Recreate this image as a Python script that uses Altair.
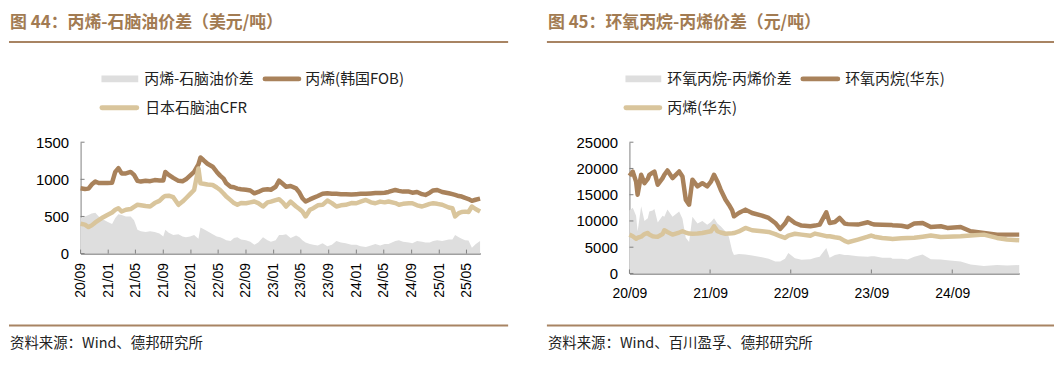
import altair as alt
import pandas as pd

# ---------------- Left panel data: 丙烯-石脑油价差 (美元/吨) ----------------
L_DATES = [
    "2020-09-01", "2020-09-20", "2020-10-06", "2020-10-20", "2020-11-05", "2020-11-20", "2020-12-10", "2020-12-28",
    "2021-01-18", "2021-02-01", "2021-02-15", "2021-03-01", "2021-03-20", "2021-04-10", "2021-04-25", "2021-05-10",
    "2021-05-25", "2021-06-15", "2021-07-05", "2021-07-25", "2021-08-15", "2021-09-01", "2021-09-10", "2021-09-25",
    "2021-10-15", "2021-11-07", "2021-11-25", "2021-12-10", "2021-12-28", "2022-01-15", "2022-02-03", "2022-02-12",
    "2022-02-25", "2022-03-15", "2022-04-07", "2022-04-25", "2022-05-10", "2022-05-25", "2022-06-06", "2022-06-25",
    "2022-07-10", "2022-07-25", "2022-08-10", "2022-09-01", "2022-09-20", "2022-10-08", "2022-10-25", "2022-11-15",
    "2022-12-05", "2022-12-20", "2023-01-10", "2023-01-25", "2023-02-10", "2023-02-25", "2023-03-17", "2023-04-10",
    "2023-04-25", "2023-05-08", "2023-05-22", "2023-06-10", "2023-06-25", "2023-07-15", "2023-08-05", "2023-08-26",
    "2023-09-15", "2023-10-05", "2023-10-25", "2023-11-15", "2023-12-10", "2024-01-01", "2024-01-20", "2024-02-12",
    "2024-03-05", "2024-03-25", "2024-04-15", "2024-05-05", "2024-05-22", "2024-06-21", "2024-07-07", "2024-07-25",
    "2024-08-20", "2024-09-04", "2024-09-25", "2024-10-17", "2024-11-01", "2024-11-20", "2024-12-05", "2024-12-23",
    "2025-01-14", "2025-02-12", "2025-02-28", "2025-03-12", "2025-03-28", "2025-04-10", "2025-04-25", "2025-05-10",
    "2025-05-25", "2025-06-10", "2025-06-30",
]
L_FOB = [
    879, 870, 875, 930, 970, 950, 950, 950,
    955, 1100, 1150, 1080, 1080, 1100, 1060, 980,
    970, 980, 975, 990, 985, 985, 1100, 1060,
    1020, 980, 975, 1000, 1050, 1100, 1200, 1294,
    1260, 1210, 1170, 1100, 1050, 1010, 946, 900,
    893, 875, 866, 860, 850, 812, 830, 860,
    866, 860, 900, 982, 940, 900, 910, 879,
    820, 745, 701, 730, 750, 775, 805, 812,
    805, 805, 800, 800, 795, 800, 805, 805,
    810, 815, 815, 820, 830, 857, 845, 835,
    835, 820, 830, 800, 790, 820, 850, 857,
    830, 812, 800, 790, 775, 768, 750, 735,
    710, 725, 740,
]
L_CFR = [
    402, 390, 357, 380, 420, 450, 490, 520,
    553, 590, 611, 567, 590, 600, 630, 657,
    650, 640, 634, 680, 710, 760, 777, 780,
    760, 657, 700, 745, 800, 857, 1147, 946,
    940, 930, 924, 890, 857, 810, 768, 720,
    680, 657, 680, 678, 690, 701, 680, 634,
    690, 700, 720, 732, 690, 634, 700, 634,
    600, 567, 500, 590, 611, 650, 657, 714,
    680, 634, 650, 657, 680, 678, 700, 723,
    690, 678, 700, 690, 701, 680, 657, 670,
    678, 678, 650, 634, 650, 670, 678, 670,
    657, 620, 611, 500, 544, 560, 565, 560,
    634, 600, 567,
]
L_SPREAD = [
    480, 500, 520, 540, 550, 500, 460, 430,
    400, 480, 530, 520, 500, 500, 450, 320,
    300, 290, 300, 290, 270, 230, 320, 280,
    250, 260, 230, 220, 230, 250, 200, 350,
    330, 300, 260, 230, 220, 200, 180, 170,
    210, 220, 190, 180, 160, 120, 150, 220,
    180, 160, 180, 250, 250, 260, 210, 245,
    220, 180, 150, 130, 120, 110, 140, 100,
    120, 170, 150, 140, 120, 120, 100, 90,
    110, 130, 110, 130, 130, 170, 180, 160,
    150, 140, 170, 160, 150, 150, 170, 180,
    170, 190, 190, 250, 220, 200, 180, 175,
    80, 125, 170,
]
L_XTICKS = ["2020-09-01", "2021-01-01", "2021-05-01", "2021-09-01", "2022-01-01", "2022-05-01",
            "2022-09-01", "2023-01-01", "2023-05-01", "2023-09-01", "2024-01-01", "2024-05-01",
            "2024-09-01", "2025-01-01", "2025-05-01"]
L_YTICKS = [0, 500, 1000, 1500]
L_DOMAIN = ["2020-09-01", "2025-07-01"]

# ---------------- Right panel data: 环氧丙烷-丙烯价差 (元/吨) ----------------
R_DATES = [
    "2020-09-01", "2020-09-16", "2020-10-01", "2020-10-08", "2020-10-24", "2020-11-08", "2020-11-23", "2020-11-30",
    "2020-12-15", "2020-12-23", "2021-01-07", "2021-01-29", "2021-02-06", "2021-02-20", "2021-03-15", "2021-04-14",
    "2021-04-29", "2021-05-14", "2021-05-29", "2021-06-13", "2021-07-06", "2021-07-28", "2021-08-19", "2021-09-05",
    "2021-09-19", "2021-10-04", "2021-10-19", "2021-11-10", "2021-11-25", "2021-12-10", "2021-12-18", "2022-01-09",
    "2022-02-08", "2022-03-10", "2022-04-24", "2022-05-24", "2022-06-23", "2022-07-15", "2022-08-06", "2022-08-21",
    "2022-09-20", "2022-10-20", "2022-11-29", "2022-12-20", "2023-01-10", "2023-02-09", "2023-02-24", "2023-03-20",
    "2023-04-10", "2023-05-03", "2023-05-18", "2023-07-02", "2023-08-16", "2023-08-31", "2023-09-15", "2023-10-20",
    "2023-11-29", "2023-12-05", "2024-01-15", "2024-02-12", "2024-03-13", "2024-04-20", "2024-05-27", "2024-07-11",
    "2024-08-10", "2024-10-09", "2024-11-23", "2025-01-22", "2025-03-23", "2025-05-07", "2025-07-01",
]
R_PO = [
    18600, 19400, 17500, 15000, 18800, 17200, 18000, 18800,
    19200, 19400, 16900, 18160, 18800, 19620, 18160, 19430,
    18480, 14060, 13100, 17860, 16590, 17200, 16590, 17500,
    18800, 17540, 15960, 14060, 13100, 12000, 10890, 11520,
    12160, 11520, 11020, 10570, 9620, 8480, 9500, 10570,
    9620, 9120, 9000, 9120, 9300, 11650, 9620, 9800,
    10570, 9500, 9400, 9310, 9750, 9500, 9310, 9300,
    9250, 9200, 9100, 8860, 9500, 9620, 8860, 8990,
    8670, 8860, 8040, 7720, 7400, 7400, 7400,
]
R_PP = [
    7400, 7100, 6600, 6800, 7000, 7500, 7720, 7400,
    7090, 7050, 7000, 7500, 8230, 7900, 7400, 7800,
    8040, 7800, 7600, 7560, 7600, 7720, 7900, 8040,
    8990, 8040, 7800, 7560, 7600, 7650, 7700, 8000,
    8670, 8230, 8040, 7900, 7500, 7100, 6770, 7200,
    7560, 7400, 7200, 7600, 7400, 7100, 7090, 6900,
    6770, 6200, 5950, 6460, 7000, 7220, 7000, 6770,
    6600, 6580, 6700, 6770, 6800, 7000, 7220, 6960,
    7000, 7090, 7220, 7400, 6770, 6460, 6330,
]
R_SPREAD = [
    12000, 12500, 11000, 8000, 12800, 10000, 10500, 11800,
    12000, 12300, 9700, 11000, 10800, 12200, 10800, 11800,
    10400, 6800, 6000, 10800, 9500, 10000, 9300, 9800,
    10500, 9500, 9000, 8000, 7000, 4300, 3500, 3700,
    3600, 3400, 3100, 2800, 2300, 2300, 2800, 3900,
    2900, 2600, 2700, 3000, 3200, 4870, 3000, 3500,
    3700, 3500, 3500, 3290, 3200, 3300, 3300, 3000,
    3000, 2800, 2800, 2660, 3200, 3610, 2700, 2660,
    2500, 2300, 1710, 1400, 1600, 1500, 1600,
]
R_XTICKS = ["2020-09-01", "2021-09-01", "2022-09-01", "2023-09-01", "2024-09-01"]
R_YTICKS = [0, 5000, 10000, 15000, 20000, 25000]
R_DOMAIN = ["2020-09-01", "2025-07-01"]

# ---------------- Styles ----------------
BROWN = "#A9825B"
TAN = "#D9C59C"
GREY = "#DEDEDE"
TITLE_C = "#A27B52"
RULE_C = "#A88463"
AXIS_C = "#808080"
CJK = "Noto Sans CJK SC"
LAT = "Liberation Sans"

ONE = pd.DataFrame({"k": [0]})


def dt(s):
    y, m, d = map(int, s.split("-"))
    return alt.DateTime(year=y, month=m, date=d)


def text(t, x, y, size, color, weight="normal", font=CJK):
    return alt.Chart(ONE).mark_text(
        text=t, align="left", baseline="middle", fontSize=size, font=font,
        color=color, fontWeight=weight
    ).encode(x=alt.value(x), y=alt.value(y))


def hline(x1, x2, y, color, width, cap="butt"):
    return alt.Chart(ONE).mark_rule(color=color, strokeWidth=width, strokeCap=cap).encode(
        x=alt.value(x1), x2=alt.value(x2), y=alt.value(y))


def panel(dates, a_vals, b_vals, s_vals, xticks, yticks, domain, W, H, angle, xpad,
          title, names, source, ox, rule_len, leg):
    df = pd.DataFrame({"date": pd.to_datetime(dates), "a": a_vals, "b": b_vals, "s": s_vals})
    xaxis = alt.Axis(values=[dt(s) for s in xticks], format="%y/%m", labelAngle=angle,
                     labelFont=LAT, labelFontSize=14, labelColor="#000", labelPadding=xpad,
                     ticks=False, tickSize=0, domainColor=AXIS_C, domainWidth=1.5, grid=False,
                     labelOverlap=False, labelFlush=False, title=None)
    yaxis = alt.Axis(values=yticks, format="d", labelFont=LAT, labelFontSize=15, labelColor="#000",
                     labelPadding=12, ticks=False, tickSize=0, domainColor=AXIS_C, domainWidth=1,
                     grid=False, title=None)
    xsc = alt.Scale(domain=[dt(domain[0]), dt(domain[1])])
    ysc = alt.Scale(domain=[yticks[0], yticks[-1]], nice=False)
    X = alt.X("date:T", scale=xsc, axis=xaxis)
    base = alt.Chart(df)
    area = base.mark_area(color=GREY, opacity=1).encode(x=X, y=alt.Y("s:Q", scale=ysc, axis=yaxis))
    la = base.mark_line(color=BROWN, strokeWidth=4.5, strokeJoin="round").encode(
        x=X, y=alt.Y("a:Q", scale=ysc, axis=yaxis))
    lb = base.mark_line(color=TAN, strokeWidth=4.5, strokeJoin="round").encode(
        x=X, y=alt.Y("b:Q", scale=ysc, axis=yaxis))
    ytk = alt.Chart(pd.DataFrame({"v": yticks})).mark_rule(color=AXIS_C, strokeWidth=1).encode(
        y=alt.Y("v:Q", scale=ysc, axis=yaxis), x=alt.value(0), x2=alt.value(4))
    xtk = alt.Chart(pd.DataFrame({"d": pd.to_datetime(xticks)})).mark_rule(
        color=AXIS_C, strokeWidth=1).encode(
        x=alt.X("d:T", scale=xsc, axis=xaxis), y=alt.value(H), y2=alt.value(H - 4))

    deco = [
        text(title, ox + 1, -120.2, 17, TITLE_C, weight="bold"),
        hline(ox, ox + rule_len, -100.7, RULE_C, 2),
        hline(leg[0], leg[1], -63.7, GREY, 7),
        text(names[0], leg[2], -63.7, 15, "#222"),
        hline(leg[3], leg[4], -63.7, BROWN, 5, "round"),
        text(names[1], leg[5], -63.7, 15, "#222"),
        hline(leg[6], leg[7], -34.7, TAN, 5, "round"),
        text(names[2], leg[8], -34.7, 15, "#222"),
        hline(ox, ox + rule_len, 184.3, RULE_C, 2),
        text(source, ox + 1, 203.3, 14.5, "#222"),
    ]
    return alt.layer(area, la, lb, ytk, xtk, *deco).properties(width=W, height=H)


left = panel(L_DATES, L_FOB, L_CFR, L_SPREAD, L_XTICKS, L_YTICKS, L_DOMAIN, 402, 112, 270, 9,
             "图 44：丙烯-石脑油价差（美元/吨）",
             ["丙烯-石脑油价差", "丙烯(韩国FOB)", "日本石脑油CFR"],
             "资料来源：Wind、德邦研究所", -72, 502,
             [21, 58, 64, 185.5, 219.5, 226, 21.5, 56.5, 65])
right = panel(R_DATES, R_PO, R_PP, R_SPREAD, R_XTICKS, R_YTICKS, R_DOMAIN, 392, 132, 0, 13,
              "图 45：环氧丙烷-丙烯价差（元/吨）",
              ["环氧丙烷-丙烯价差", "环氧丙烷(华东)", "丙烯(华东)"],
              "资料来源：Wind、百川盈孚、德邦研究所", -83, 510,
              [-4, 32, 38, 174.5, 209.5, 217, -3.5, 30.5, 38])

chart = alt.hconcat(left, right, spacing=37).properties(
    padding={"left": 0, "top": 4, "right": 0, "bottom": 0}
).configure_view(stroke=None)

chart.save("out.html", embed_options={"renderer": "svg", "actions": False})
